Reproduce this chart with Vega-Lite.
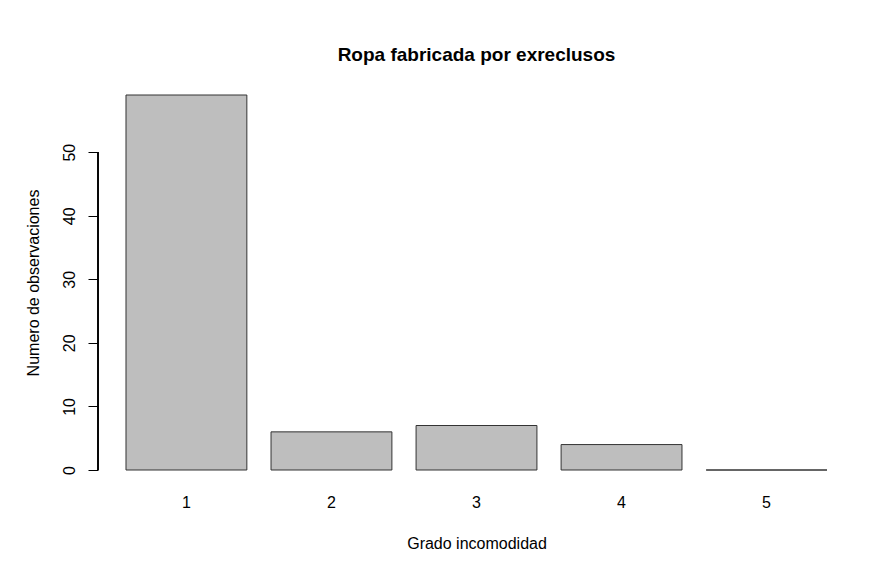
{
  "$schema": "https://vega.github.io/schema/vega-lite/v6.json",
  "width": 757,
  "height": 405,
  "autosize": {"type": "none"},
  "padding": {"left": 98, "top": 80, "right": 39, "bottom": 95},
  "background": "white",
  "title": {"text": "Ropa fabricada por exreclusos", "font": "Liberation Sans", "fontSize": 19, "fontWeight": "bold", "color": "black", "offset": 15, "anchor": "middle"},
  "data": {"values": [
    {"grado": "1", "n": 59},
    {"grado": "2", "n": 6},
    {"grado": "3", "n": 7},
    {"grado": "4", "n": 4},
    {"grado": "5", "n": 0}
  ]},
  "config": {
    "view": {"stroke": null},
    "axis": {"labelFont": "Liberation Sans", "titleFont": "Liberation Sans", "labelFontSize": 16, "titleFontSize": 16, "titleFontWeight": "normal", "labelColor": "black", "titleColor": "black", "grid": false}
  },
  "layer": [
    {
      "mark": {"type": "bar", "fill": "#bebebe", "stroke": "#333333", "strokeWidth": 1},
      "encoding": {
        "x": {"field": "grado", "type": "ordinal", "scale": {"paddingInner": 0.1667, "paddingOuter": 0.193},
          "axis": {"title": "Grado incomodidad", "labelAngle": 0, "domain": false, "ticks": false, "tickSize": 0, "labelPadding": 9.5, "titleY": 58, "titleBaseline": "middle"}},
        "y": {"field": "n", "type": "quantitative", "scale": {"domain": [-2.36, 61.36], "nice": false, "zero": false},
          "axis": {"title": "Numero de observaciones", "values": [0, 10, 20, 30, 40, 50], "domain": false, "tickSize": 10, "tickColor": "black", "labelAngle": -90, "labelAlign": "center", "labelBaseline": "alphabetic", "labelPadding": 14, "titleX": -65, "titleBaseline": "middle"}},
        "y2": {"datum": 0}
      }
    },
    {
      "mark": {"type": "rule", "color": "black"},
      "encoding": {"y": {"datum": 0, "type": "quantitative"}, "y2": {"datum": 50}, "x": {"value": 0}}
    }
  ]
}
